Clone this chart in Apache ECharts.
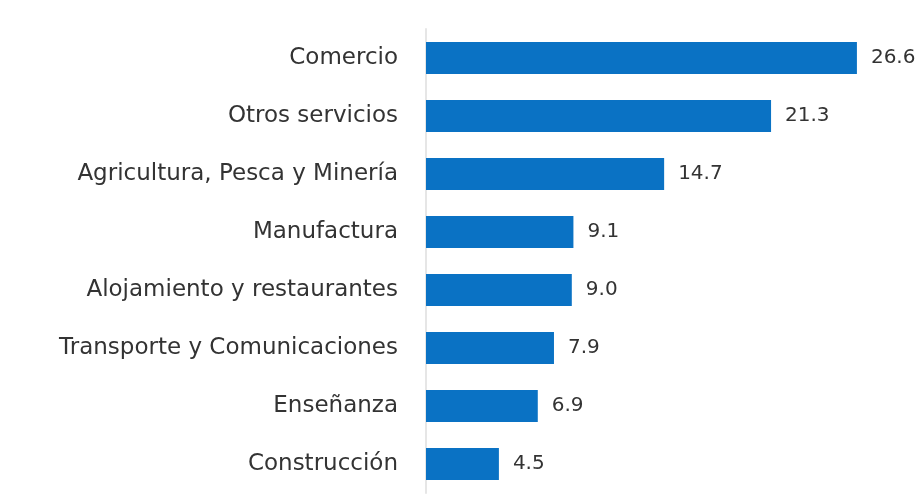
<!DOCTYPE html>
<html><head><meta charset="utf-8">
<script src="https://cdn.jsdelivr.net/npm/echarts@6/dist/echarts.min.js"></script>
<style>html,body{margin:0;padding:0;background:#fff}#c{width:924px;height:494px}</style>
</head><body><div id="c"></div>
<script>
const categories = ["Comercio","Otros servicios","Agricultura, Pesca y Minería","Manufactura","Alojamiento y restaurantes","Transporte y Comunicaciones","Enseñanza","Construcción"];
const values = [26.6,21.3,14.7,9.1,9.0,7.9,6.9,4.5];
const chart = echarts.init(document.getElementById('c'));
chart.setOption({
  animation:false,
  grid:{left:426,right:12,top:29,bottom:1,containLabel:false},
  xAxis:{type:'value',min:0,max:30,show:false},
  yAxis:{type:'category',inverse:true,data:categories,
    axisLine:{show:true,lineStyle:{color:'#e6e6e6',width:2}},
    axisTick:{show:false},
    axisLabel:{color:'#333',fontSize:23,fontFamily:'DejaVu Sans',margin:28}},
  series:[{type:'bar',data:values,barWidth:32,
    itemStyle:{color:'#0a72c4'},
    label:{show:true,position:'right',distance:14,color:'#333',fontSize:20,fontFamily:'DejaVu Sans',
      formatter:p=>p.value.toFixed(1)}}]
});
</script></body></html>
